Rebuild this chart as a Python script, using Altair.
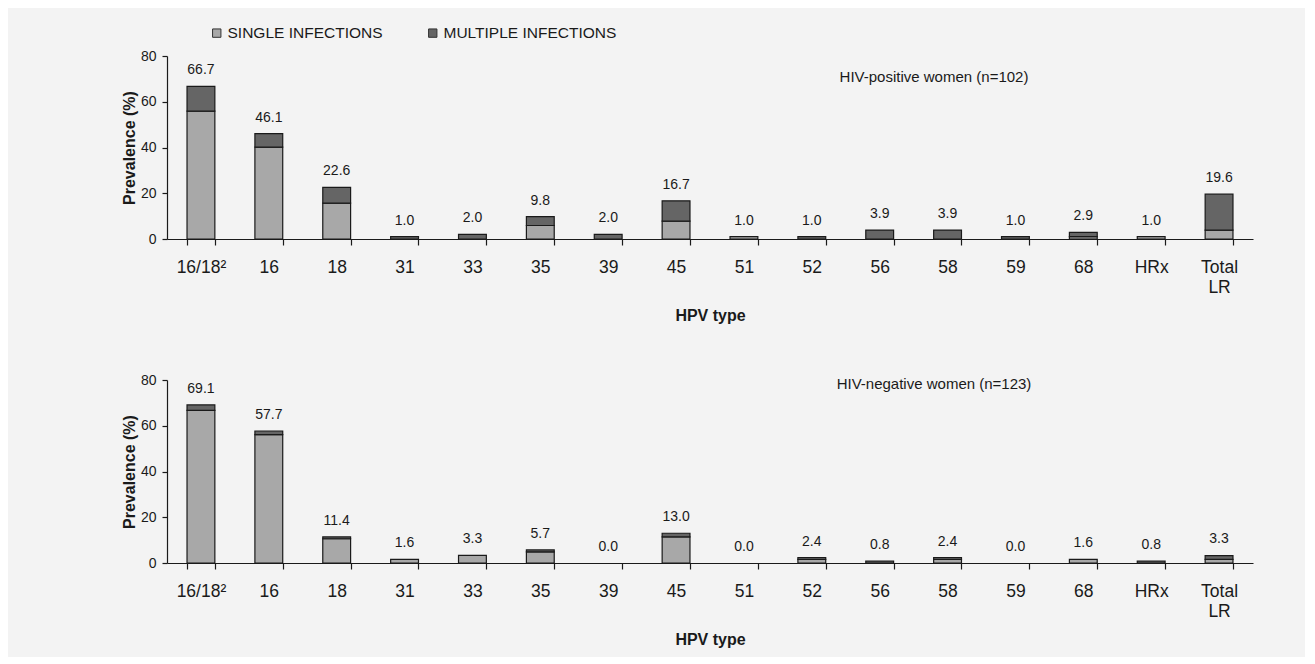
import altair as alt
import pandas as pd

categories = ["16/18²", "16", "18", "31", "33", "35", "39", "45", "51", "52",
              "56", "58", "59", "68", "HRx", "Total LR"]

pos_single = [55.9, 40.2, 15.7, 0.0, 0.0, 5.9, 0.0, 7.8, 1.0, 0.0, 0.0, 0.0, 0.0, 1.0, 1.0, 3.9]
pos_multiple = [10.8, 5.9, 6.9, 1.0, 2.0, 3.9, 2.0, 8.9, 0.0, 1.0, 3.9, 3.9, 1.0, 1.9, 0.0, 15.7]
pos_total = [66.7, 46.1, 22.6, 1.0, 2.0, 9.8, 2.0, 16.7, 1.0, 1.0, 3.9, 3.9, 1.0, 2.9, 1.0, 19.6]

neg_single = [66.7, 56.1, 10.6, 1.6, 3.3, 4.9, 0.0, 11.4, 0.0, 1.6, 0.0, 1.6, 0.0, 1.6, 0.0, 1.6]
neg_multiple = [2.4, 1.6, 0.8, 0.0, 0.0, 0.8, 0.0, 1.6, 0.0, 0.8, 0.8, 0.8, 0.0, 0.0, 0.8, 1.6]
neg_total = [69.1, 57.7, 11.4, 1.6, 3.3, 5.7, 0.0, 13.0, 0.0, 2.4, 0.8, 2.4, 0.0, 1.6, 0.8, 3.3]

series_names = ["SINGLE INFECTIONS", "MULTIPLE INFECTIONS"]
series_colors = ["#a8a8a8", "#656565"]

FONT = "Liberation Sans"


def long_table(single, multiple):
    rows = []
    for c, s, m in zip(categories, single, multiple):
        if s > 0:
            rows.append({"type": c, "series": series_names[0], "ord": 0, "value": s})
        if m > 0:
            rows.append({"type": c, "series": series_names[1], "ord": 1, "value": m})
    return pd.DataFrame(rows)


def panel(single, multiple, total, title, title_y, show_legend):
    df = long_table(single, multiple)
    tot = pd.DataFrame({"type": categories, "total": total})

    x = alt.X(
        "type:N",
        sort=categories,
        scale=alt.Scale(domain=categories, paddingInner=0.59, paddingOuter=0.295),
        axis=alt.Axis(
            title="HPV type",
            labelAngle=0,
            labelFontSize=17.5,
            labelColor="#1a1a1a",
            labelPadding=13,
            labelLineHeight=20,
            labelExpr="datum.value == 'Total LR' ? ['Total', 'LR'] : datum.value",
            tickBand="extent",
            tickSize=6,
            titleFontSize=16,
            titleFontWeight="bold",
            titlePadding=12,
            titleColor="#1a1a1a",
        ),
    )
    y = alt.Y(
        "value:Q",
        stack="zero",
        scale=alt.Scale(domain=[0, 80], nice=False),
        axis=alt.Axis(
            title="Prevalence (%)",
            values=[0, 20, 40, 60, 80],
            grid=False,
            tickSize=5,
            labelFontSize=14,
            labelPadding=6,
            labelColor="#1a1a1a",
            titleFontSize=16,
            titleFontWeight="bold",
            titlePadding=3,
            titleColor="#1a1a1a",
        ),
    )
    if show_legend:
        legend = alt.Legend(
            title=None,
            orient="none",
            direction="horizontal",
            legendX=42,
            legendY=-31,
            padding=0,
            columnPadding=42,
            symbolType="square",
            symbolSize=70,
            symbolStrokeColor="#333333",
            symbolStrokeWidth=1,
            labelFontSize=15.5,
            labelLimit=400,
            labelColor="#1a1a1a",
            labelOffset=3,
        )
    else:
        legend = None

    bars = alt.Chart(df).mark_bar(stroke="#1a1a1a", strokeWidth=1.2).encode(
        x=x,
        y=y,
        color=alt.Color("series:N",
                        scale=alt.Scale(domain=series_names, range=series_colors),
                        legend=legend),
        order=alt.Order("ord:Q", sort="ascending"),
    )
    labels = alt.Chart(tot).mark_text(
        fontSize=14, color="#1a1a1a", dy=-16, baseline="middle"
    ).encode(
        x=alt.X("type:N", sort=categories),
        y=alt.Y("total:Q"),
        text=alt.Text("total:Q", format=".1f"),
    )
    ttl = alt.Chart(pd.DataFrame({"t": [title]})).mark_text(
        fontSize=15, color="#1a1a1a", baseline="middle", align="center"
    ).encode(
        x=alt.value(767),
        y=alt.value(title_y),
        text="t:N",
    )
    return alt.layer(bars, labels, ttl).properties(width=1086, height=183)


top = panel(pos_single, pos_multiple, pos_total, "HIV-positive women (n=102)", 21, True)
bottom = panel(neg_single, neg_multiple, neg_total, "HIV-negative women (n=123)", 4, False)

chart = alt.vconcat(top, bottom, spacing=49).resolve_scale(color="independent").properties(
    background="#f3f3f3",
    padding={"left": 113, "top": 17, "right": 52, "bottom": 9},
).configure(
    font=FONT,
    view=alt.ViewConfig(stroke=None),
    axis=alt.AxisConfig(
        domainColor="#1a1a1a",
        tickColor="#1a1a1a",
        domainWidth=1.2,
        tickWidth=1.2,
        labelFont=FONT,
        titleFont=FONT,
    ),
    legend=alt.LegendConfig(labelFont=FONT),
)

chart.save("out.html", embed_options={"renderer": "svg", "actions": False})
